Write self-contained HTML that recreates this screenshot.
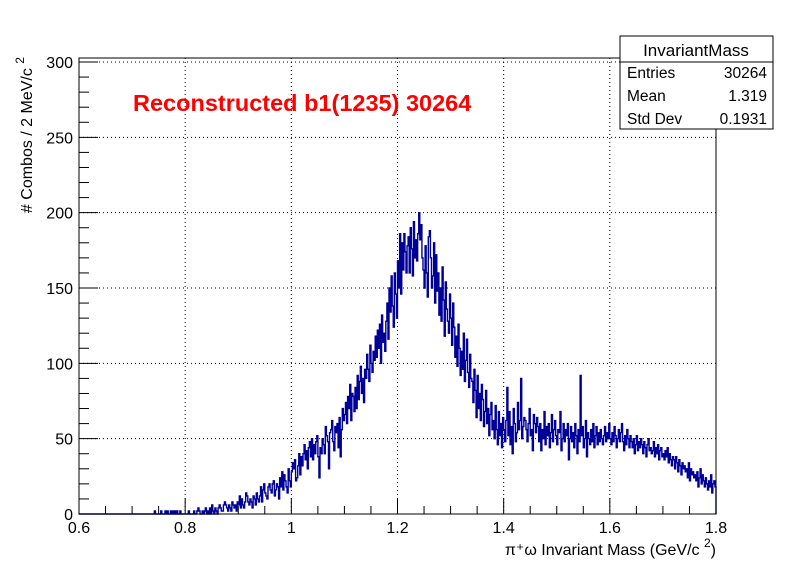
<!DOCTYPE html>
<html><head><meta charset="utf-8"><style>
html,body{margin:0;padding:0;background:#fff;}
svg{display:block;font-family:"Liberation Sans",Arial,sans-serif;}
</style></head><body>
<svg id="chart" width="796" height="572" viewBox="0 0 796 572">
<rect x="0" y="0" width="796" height="572" fill="#fff"/>
<g id="grid"></g>
<path id="hist" fill="none" stroke="#000099" stroke-width="1.4"/>
<rect x="79" y="58" width="637" height="456" fill="none" stroke="#000" stroke-width="1"/>
<g id="axes"></g>
<text x="133" y="111" fill="#ff0000" font-size="23.5" font-weight="bold">Reconstructed b1(1235) 30264</text>
<text x="716" y="555" text-anchor="end" font-size="16">π⁺ω Invariant Mass (GeV/c <tspan font-size="12" dy="-8">2</tspan><tspan dy="8">)</tspan></text>
<text transform="translate(32,57) rotate(-90)" font-size="16" text-anchor="end"># Combos / 2 MeV/c <tspan font-size="12" dy="-8">2</tspan></text>
<g>
<rect x="620" y="36" width="153" height="93" fill="#fff" stroke="#000" stroke-width="1"/>
<line x1="620" y1="62" x2="773" y2="62" stroke="#000"/>
<text x="696" y="56" text-anchor="middle" font-size="17">InvariantMass</text>
<text x="627" y="78" font-size="15.5">Entries</text><text x="767" y="78" text-anchor="end" font-size="15.5">30264</text>
<text x="627" y="101" font-size="15.5">Mean</text><text x="767" y="101" text-anchor="end" font-size="15.5">1.319</text>
<text x="627" y="124" font-size="15.5">Std Dev</text><text x="767" y="124" text-anchor="end" font-size="15.5">0.1931</text>
</g>
</svg>
<script>
const xMin = 0.6, xMax = 1.8, binWidth = 0.002;
const xTickLabels = ["0.6","0.8","1","1.2","1.4","1.6","1.8"];
const yTickLabels = ["0","50","100","150","200","250","300"];
const counts = [
0,0,0,0,0,0,0,0,0,0, 0,0,0,0,0,0,0,0,0,0, 0,0,0,0,0,0,0,0,0,0, 0,0,0,0,0,0,0,0,0,0,
0,0,0,0,0,0,0,0,0,0, 0,0,0,0,0,0,0,0,0,0, 0,0,0,0,0,0,0,0,0,0,
0,2,0,0,0,0,0,2,0,0, 0,2,0,2,0,0,2,0,2,0, 2,0,2,0,0,2,0,0,0,0,
0,0,0,2,0,0,0,0,2,0, 0,2,4,2,0,0,2,0,2,4, 0,2,0,4,0,6,2,0,4,2,
0,4,6,4,2,2,6,8,6,4, 2,6,4,2,8,6,4,6,2,8, 6,12,4,10,6,4,8,14,12,8,
6,10,8,4,12,10,6,14,10,8, 12,18,8,16,20,14,12,10,18,20, 16,14,20,22,12,16,20,18,10,24,
18,28,16,26,22,18,14,30,22,18, 28,34,30,36,22,24,32,40,26,38, 32,40,46,36,42,30,44,48,38,50,
36,46,40,48,52,38,24,44,40,50, 46,40,58,52,48,30,54,56,62,48, 42,58,54,60,44,64,38,56,70,62,
66,74,60,78,70,86,62,80,78,68, 84,70,92,76,88,98,80,90,74,96, 90,106,96,88,112,100,94,108,102,118,
104,122,110,126,100,132,114,120,108,128, 140,116,150,134,158,138,124,160,146,130,
168,150,186,146,180,162,186,174,160,178, 184,160,190,176,158,194,170,182,168,186,
200,182,192,170,162,150,178,160,144,184, 188,170,150,158,180,140,172,148,160,132,
150,128,164,142,118,154,136,128,120,146, 130,112,140,124,104,118,98,126,110,92,
108,96,120,88,102,116,94,84,106,90, 88,74,96,82,64,92,70,80,62,86,
76,58,68,82,60,70,52,66,74,56, 62,50,72,56,46,68,52,60,44,64,
56,48,62,84,52,68,46,58,40,70, 60,48,54,74,56,62,90,50,58,64,
62,56,48,60,70,52,56,42,66,60, 54,64,58,48,60,42,56,50,68,46,
58,52,60,44,54,66,48,56,62,52, 46,56,54,68,42,50,60,48,56,52,
60,36,50,58,48,54,44,60,52,40, 56,48,92,52,58,44,50,62,38,54,
50,46,56,48,60,44,52,58,46,54, 48,56,50,46,52,58,48,54,50,60,
50,46,54,48,58,52,44,50,56,48, 54,60,48,42,52,46,56,50,44,52,
48,44,50,40,46,52,42,48,44,50, 46,40,48,44,38,46,50,42,44,40,
42,48,38,44,40,46,36,42,44,38, 40,36,42,38,44,34,40,36,32,38,
36,30,38,34,28,36,32,26,34,30, 32,28,30,24,34,22,30,26,28,24,
26,22,28,18,24,30,20,26,22,18, 24,20,16,22,18,26,14,20,22,18
];
const L=79,R=716,B=514,T=62;
function sx(v){return L+(v-xMin)/(xMax-xMin)*(R-L);}
function sy(v){return B-v/300*(B-T);}
const NS="http://www.w3.org/2000/svg";
function mk(tag,attrs,parent){const e=document.createElementNS(NS,tag);for(const k in attrs)e.setAttribute(k,attrs[k]);parent.appendChild(e);return e;}
let d="M"+sx(xMin)+","+sy(0);
counts.forEach((c,i)=>{const x0=sx(xMin+i*binWidth),x1=sx(xMin+(i+1)*binWidth);d+=" L"+x0.toFixed(2)+","+sy(c).toFixed(2)+" L"+x1.toFixed(2)+","+sy(c).toFixed(2);});
d+=" L"+sx(xMax)+","+sy(0);
document.getElementById('hist').setAttribute('d',d);
const grid=document.getElementById('grid'),axes=document.getElementById('axes');
xTickLabels.forEach(lbl=>{const v=parseFloat(lbl),x=sx(v);
 if(v>xMin&&v<xMax){const g=mk('line',{x1:x,y1:58,x2:x,y2:B,stroke:'#000','stroke-dasharray':'1,3'},grid);
 
 }
 const t=mk('text',{x:x,y:533,'text-anchor':'middle','font-size':16},axes);t.textContent=lbl;
 
 
});
for(let v=xMin;v<=xMax+1e-9;v+=0.05){const x=sx(v);const major=Math.abs((v-xMin)/0.2-Math.round((v-xMin)/0.2))<1e-6;
 const tk=mk('line',{x1:x,y1:B,x2:x,y2:B-(major?16:8),stroke:'#000'},axes);
 
 }
yTickLabels.forEach(lbl=>{const v=parseFloat(lbl),y=sy(v);
 if(v>0){const g=mk('line',{x1:L,y1:y,x2:R,y2:y,stroke:'#000','stroke-dasharray':'1,3'},grid);
 
 }
 const t=mk('text',{x:73,y:y+6,'text-anchor':'end','font-size':16},axes);t.textContent=lbl;
 
 
});
for(let v=0;v<=300;v+=10){const y=sy(v);const major=v%50===0;
 const tk=mk('line',{x1:L,y1:y,x2:L+(major?19:10),y2:y,stroke:'#000'},axes);
 
 }
</script>
</body></html>
